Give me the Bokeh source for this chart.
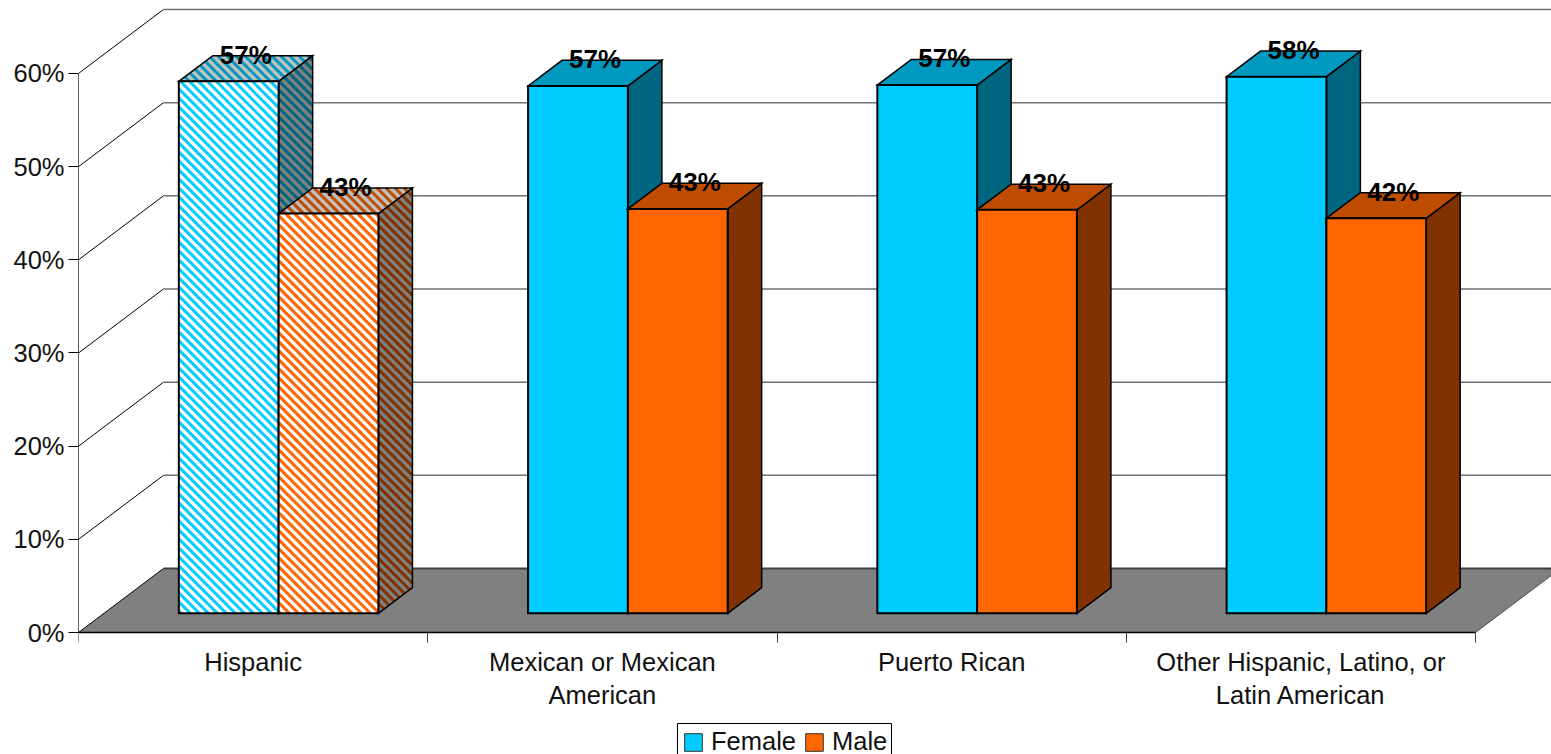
from bokeh.plotting import figure
from bokeh.models import Range1d, FixedTicker, Legend, LegendItem
from bokeh.core.properties import value
from bokeh.embed import file_html
from bokeh.resources import INLINE

categories = ["Hispanic", "Mexican or Mexican\nAmerican", "Puerto Rican", "Other Hispanic, Latino, or\nLatin American"]
female = [57.1, 56.6, 56.7, 57.6]
male = [42.9, 43.4, 43.3, 42.4]
female_labels = ["57%", "57%", "57%", "58%"]
male_labels = ["43%", "43%", "43%", "42%"]
y_ticks = [0, 10, 20, 30, 40, 50, 60]
y_tick_labels = ["0%", "10%", "20%", "30%", "40%", "50%", "60%"]

FONT = "Liberation Sans"
W, H = 1551, 754
LEFT, BASE = 78, 632
CAT_W = 349.25
PX_PER = 9.317
DX, DY = 85 / CAT_W, 64 / PX_PER      # full chart depth in data units
GAP = 1.5
BAR_W = 1 / (2 + GAP)
D0, D1 = 0.3, 0.7                     # bar depth span
STRIPE_PERIOD = 9.0                   # horizontal spacing of the hatch, px

p = figure(width=W, height=H, output_backend="svg", toolbar_location=None,
           x_range=Range1d(0, (W - LEFT) / CAT_W), y_range=Range1d(-(H - BASE) / PX_PER, BASE / PX_PER),
           min_border_left=LEFT, min_border_right=0, min_border_top=0, min_border_bottom=0)
p.outline_line_color = None
p.grid.visible = False
p.background_fill_color = "white"

xa = p.xaxis[0]
xa.fixed_location = 0
xa.ticker = FixedTicker(ticks=[i + 0.5 for i in range(len(categories))], minor_ticks=list(range(len(categories) + 1)))
xa.major_label_overrides = {i + 0.5: c for i, c in enumerate(categories)}
xa.bounds = (0, len(categories))
xa.major_tick_in = 0
xa.major_tick_out = 0
xa.minor_tick_in = 0
xa.minor_tick_out = 10
xa.minor_tick_line_color = "#404040"
xa.axis_line_color = "black"
xa.major_label_text_font = FONT
xa.major_label_text_font_size = "25.5px"
xa.major_label_text_color = "#111111"
xa.major_label_standoff = 5

ya = p.yaxis[0]
ya.ticker = FixedTicker(ticks=y_ticks, minor_ticks=[])
ya.major_label_overrides = {t: l for t, l in zip(y_ticks, y_tick_labels)}
ya.bounds = (0, y_ticks[-1])
ya.major_tick_in = 0
ya.major_tick_out = 10
ya.major_tick_line_color = "black"
ya.axis_line_color = "#606060"
ya.major_label_text_font = FONT
ya.major_label_text_font_size = "25.5px"
ya.major_label_text_color = "#111111"
ya.major_label_standoff = 4

# floor
n = len(categories)
p.patch([0, DX, n + DX, n], [0, DY, DY, 0], fill_color="#808080", line_color=None)
p.line([DX, n + DX], [DY, DY], line_color="#404040", line_width=2)
p.line([0, n], [0, 0], line_color="black", line_width=1.5)
# left wall lines and back wall gridlines
p.segment(x0=[0] * len(y_ticks), y0=y_ticks, x1=[DX] * len(y_ticks), y1=[t + DY for t in y_ticks],
          line_color="black", line_width=1)
p.segment(x0=[DX] * 6, y0=[t + DY for t in y_ticks[1:]], x1=[n + DX] * 6, y1=[t + DY for t in y_ticks[1:]],
          line_color="#707070", line_width=1.5)
p.line([n, n + DX], [0, DY], line_color="#505050", line_width=1)


def faces(i, s, v):
    x0 = i + BAR_W * (GAP / 2 + s) + D0 * DX
    x1 = x0 + BAR_W
    y0 = D0 * DY
    y1 = y0 + v
    dx, dy = (D1 - D0) * DX, (D1 - D0) * DY
    front = ([x0, x1, x1, x0], [y0, y0, y1, y1])
    top = ([x0, x1, x1 + dx, x0 + dx], [y1, y1, y1 + dy, y1 + dy])
    side = ([x1, x1 + dx, x1 + dx, x1], [y0, y0 + dy, y1 + dy, y1])
    return front, top, side


def stripes(xs, ys):
    """45-degree hatch lines clipped to a convex face, returned in data units."""
    sx = [LEFT + x * CAT_W for x in xs]
    sy = [BASE - y * PX_PER for y in ys]
    cs = [b - a for a, b in zip(sx, sy)]      # screen lines y - x = c
    out_x, out_y = [], []
    c = (min(cs) // STRIPE_PERIOD) * STRIPE_PERIOD
    while c < max(cs):
        hits = []
        for k in range(len(sx)):
            x0, y0, x1, y1 = sx[k], sy[k], sx[(k + 1) % len(sx)], sy[(k + 1) % len(sx)]
            d0, d1 = y0 - x0 - c, y1 - x1 - c
            if d0 * d1 < 0:
                t = d0 / (d0 - d1)
                hits.append((x0 + t * (x1 - x0), y0 + t * (y1 - y0)))
        if len(hits) >= 2:
            hits.sort()
            a, b = hits[0], hits[-1]
            out_x.append([(a[0] - LEFT) / CAT_W, (b[0] - LEFT) / CAT_W])
            out_y.append([(BASE - a[1]) / PX_PER, (BASE - b[1]) / PX_PER])
        c += STRIPE_PERIOD
    return out_x, out_y


def draw(idx, s, vals, c_front, c_top, c_side, hatched):
    geo = [faces(i, s, vals[i]) for i in idx]
    for k, col, back, lw in ((2, c_side, "#808080", 1.5), (1, c_top, "#C0C0C0", 1.5), (0, c_front, "white", 2)):
        xs = [g[k][0] for g in geo]
        ys = [g[k][1] for g in geo]
        if hatched:
            p.patches(xs, ys, fill_color=back, line_color=None)
            sxs, sys = stripes(xs[0], ys[0])
            p.multi_line(sxs, sys, line_color=col, line_width=3, line_cap="butt")
            p.patches(xs, ys, fill_color=None, line_color="black", line_width=lw, line_join="miter")
        else:
            p.patches(xs, ys, fill_color=col, line_color="black", line_width=lw, line_join="miter")


F = ("#00CCFF", "#0099BF", "#006680")
M = ("#FF6600", "#BF4D00", "#803300")
draw([0], 0, female, *F, True)
draw([0], 1, male, *M, True)
draw([1, 2, 3], 0, female, *F, False)
draw([1, 2, 3], 1, male, *M, False)

# data labels
for s, vals, labs in ((0, female, female_labels), (1, male, male_labels)):
    xs = [i + BAR_W * (GAP / 2 + s + 0.5) + 0.5 * DX for i in range(n)]
    ys = [v + D1 * DY + 0.1 for v in vals]
    p.text(xs, ys, text=labs, text_font=value(FONT), text_font_style="bold", text_font_size="26px",
           text_align="center", text_baseline="middle", text_color="black")

# legend frame, then a legend whose own box is invisible; its swatches come from off-range quads
px = lambda x: (x - LEFT) / CAT_W
py = lambda y: (BASE - y) / PX_PER
p.quad(left=[px(677)], right=[px(891)], top=[py(723)], bottom=[py(760)],
       fill_color="white", line_color="black", line_width=1)
rf = p.quad(left=[-9], right=[-8], top=[-90], bottom=[-99], fill_color=F[0], line_color="#333333")
rm = p.quad(left=[-9], right=[-8], top=[-90], bottom=[-99], fill_color=M[0], line_color="#333333")
legend = Legend(items=[LegendItem(label="Female", renderers=[rf]), LegendItem(label="Male", renderers=[rm])],
                orientation="horizontal", location=(682 - LEFT, -2),
                label_text_font=FONT, label_text_font_size="25.5px", label_text_color="#111111",
                glyph_width=22, glyph_height=22, label_standoff=7, spacing=7,
                padding=5, margin=0, border_line_color=None,
                background_fill_alpha=0)
p.add_layout(legend)

open("out.html", "w").write(file_html(p, INLINE))
